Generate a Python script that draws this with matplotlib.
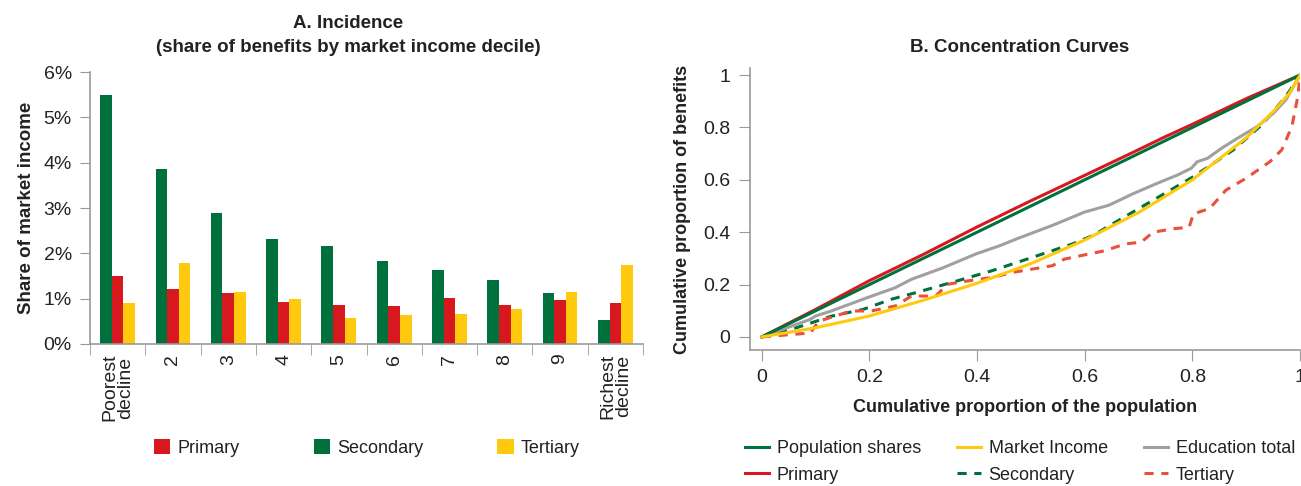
import numpy as np
import matplotlib
matplotlib.use("Agg")
import matplotlib.pyplot as plt
from matplotlib.ticker import FixedLocator

plt.rcParams['font.family'] = ['Liberation Sans', 'DejaVu Sans']

# Panel A data (share of market income, %)
deciles = ["Poorest\ndecline", "2", "3", "4", "5", "6", "7", "8", "9", "Richest\ndecline"]
secondary = [5.50, 3.87, 2.90, 2.32, 2.16, 1.82, 1.63, 1.42, 1.13, 0.52]
primary = [1.50, 1.22, 1.12, 0.93, 0.87, 0.84, 1.02, 0.87, 0.98, 0.91]
tertiary = [0.90, 1.78, 1.15, 0.99, 0.57, 0.63, 0.67, 0.78, 1.14, 1.75]

# Panel B data (concentration curves)
pop_x = [0, 1]
pop_y = [0, 1]
prim_x = [0, 0.1, 0.2, 0.3, 0.4, 0.5, 0.6, 0.7, 0.75, 0.8, 0.9, 1.0]
prim_y = [0, 0.105, 0.215, 0.315, 0.42, 0.52, 0.617, 0.715, 0.765, 0.812, 0.91, 1.0]
mkt_x = [0, 0.1, 0.2, 0.3, 0.4, 0.5, 0.6, 0.7, 0.8, 0.9, 0.95, 0.98, 1.0]
mkt_y = [0, 0.035, 0.08, 0.14, 0.205, 0.28, 0.37, 0.475, 0.60, 0.76, 0.86, 0.93, 1.0]
edu_x = [0, 0.09, 0.10, 0.129, 0.196, 0.248, 0.278, 0.338, 0.398, 0.443, 0.473, 0.54,
         0.60, 0.645, 0.69, 0.734, 0.772, 0.798, 0.809, 0.828, 0.854, 0.884, 0.921,
         0.951, 0.974, 1.0]
edu_y = [0, 0.067, 0.08, 0.099, 0.15, 0.188, 0.22, 0.265, 0.317, 0.349, 0.374, 0.426,
         0.477, 0.503, 0.547, 0.586, 0.618, 0.644, 0.669, 0.682, 0.72, 0.759, 0.804,
         0.855, 0.906, 1.0]
sec_x = [0, 0.054, 0.129, 0.188, 0.241, 0.286, 0.353, 0.428, 0.503, 0.577, 0.615,
         0.652, 0.727, 0.802, 0.876, 0.929, 0.974, 1.0]
sec_y = [0, 0.028, 0.079, 0.105, 0.144, 0.169, 0.208, 0.253, 0.304, 0.355, 0.387,
         0.432, 0.522, 0.612, 0.714, 0.81, 0.919, 1.0]
ter_x = [0, 0.09, 0.106, 0.166, 0.203, 0.248, 0.278, 0.323, 0.345, 0.383, 0.428,
         0.465, 0.54, 0.562, 0.592, 0.637, 0.675, 0.705, 0.727, 0.765, 0.794, 0.802,
         0.832, 0.862, 0.899, 0.944, 0.966, 0.985, 0.996, 1.0]
ter_y = [0, 0.015, 0.06, 0.099, 0.099, 0.118, 0.156, 0.156, 0.201, 0.214, 0.227,
         0.246, 0.272, 0.297, 0.31, 0.329, 0.355, 0.362, 0.40, 0.413, 0.419, 0.47,
         0.49, 0.56, 0.605, 0.669, 0.714, 0.804, 0.919, 1.0]

GREEN = "#00703c"
RED = "#d7191f"
YELLOW = "#ffc90e"
GRAY = "#a0a0a0"
TER = "#e8513a"
SPINE = "#999999"
TXT = "#222222"

TICK_FS = 14
TITLE_FS = 13.5
LEG_FS = 13

W, H = 1301, 486
fig = plt.figure(figsize=(W / 100, H / 100), dpi=100)

def fx(px):
    return px / W

def fy(py):
    return 1 - py / H

# ---------- Panel A ----------
axA = fig.add_axes([fx(90), fy(344), fx(643 - 90), fy(72) - fy(344)])
x = np.arange(len(deciles))
w = 0.21
axA.bar(x - w, secondary, w, color=GREEN, label="Secondary")
axA.bar(x, primary, w, color=RED, label="Primary")
axA.bar(x + w, tertiary, w, color=YELLOW, label="Tertiary")
axA.set_xlim(-0.5, len(deciles) - 0.5)
axA.set_ylim(0, 6)
axA.set_yticks(range(7))
axA.set_yticklabels([f"{i}%" for i in range(7)])
axA.set_xticks(x)
axA.set_xticklabels(deciles, rotation=90, va="top", ha="center", linespacing=0.9)
axA.xaxis.set_minor_locator(FixedLocator(np.arange(-0.5, len(deciles), 1)))
axA.tick_params(axis="x", which="major", length=0, pad=7, labelsize=TICK_FS, labelcolor=TXT)
axA.tick_params(axis="x", which="minor", length=8, color=SPINE, direction="out")
axA.tick_params(axis="y", length=7, color=SPINE, labelsize=TICK_FS, labelcolor=TXT, pad=6)
for s in ["top", "right"]:
    axA.spines[s].set_visible(False)
for s in ["left", "bottom"]:
    axA.spines[s].set_color(SPINE)
    axA.spines[s].set_linewidth(1.2)
axA.set_ylabel("Share of market income", fontsize=13.5, fontweight="bold",
               color=TXT, labelpad=6)
fig.text(fx(348), fy(23), "A. Incidence", ha="center", va="center",
         fontsize=TITLE_FS, fontweight="bold", color=TXT)
fig.text(fx(348), fy(47), "(share of benefits by market income decile)", ha="center",
         va="center", fontsize=TITLE_FS, fontweight="bold", color=TXT)
h, l = axA.get_legend_handles_labels()
order = [1, 0, 2]
axA.legend([h[i] for i in order], [l[i] for i in order], loc="center",
           bbox_to_anchor=(fx(367), fy(448)), bbox_transform=fig.transFigure,
           ncol=3, frameon=False, fontsize=LEG_FS, handlelength=0.9, handleheight=0.9,
           columnspacing=4.1, handletextpad=0.4, borderpad=0, labelcolor=TXT)

# ---------- Panel B ----------
axB = fig.add_axes([fx(750), fy(350), fx(1300 - 750), fy(68) - fy(350)])
lw = 2.2
l_pop, = axB.plot(pop_x, pop_y, color=GREEN, lw=lw, label="Population shares")
l_prim, = axB.plot(prim_x, prim_y, color=RED, lw=lw, label="Primary")
l_mkt, = axB.plot(mkt_x, mkt_y, color=YELLOW, lw=lw, label="Market Income")
l_sec, = axB.plot(sec_x, sec_y, color=GREEN, lw=lw, ls=(0, (3, 2.5)), label="Secondary")
l_edu, = axB.plot(edu_x, edu_y, color=GRAY, lw=lw, label="Education total")
l_ter, = axB.plot(ter_x, ter_y, color=TER, lw=lw, ls=(0, (3, 2.5)), label="Tertiary")
# keep green/yellow on top like the original
l_pop.set_zorder(4)
l_mkt.set_zorder(4)
axB.set_xlim(-0.022, 1.0)
axB.set_ylim(-0.05, 1.027)
ticks = [0, 0.2, 0.4, 0.6, 0.8, 1]
tlabels = ["0", "0.2", "0.4", "0.6", "0.8", "1"]
axB.set_xticks(ticks)
axB.set_xticklabels(tlabels)
axB.set_yticks(ticks)
axB.set_yticklabels(tlabels)
axB.tick_params(length=8, color=SPINE, labelsize=TICK_FS, labelcolor=TXT, pad=6)
for s in ["top", "right"]:
    axB.spines[s].set_visible(False)
for s in ["left", "bottom"]:
    axB.spines[s].set_color(SPINE)
    axB.spines[s].set_linewidth(1.2)
axB.set_xlabel("Cumulative proportion of the population", fontsize=13,
               fontweight="bold", color=TXT, labelpad=9)
axB.set_ylabel("Cumulative proportion of benefits", fontsize=13,
               fontweight="bold", color=TXT, labelpad=9)
fig.text(fx(1020), fy(48), "B. Concentration Curves", ha="center", va="center",
         fontsize=TITLE_FS, fontweight="bold", color=TXT)
axB.legend([l_pop, l_prim, l_mkt, l_sec, l_edu, l_ter],
           ["Population shares", "Primary", "Market Income", "Secondary",
            "Education total", "Tertiary"],
           loc="center", bbox_to_anchor=(fx(1020), fy(462)), bbox_transform=fig.transFigure,
           ncol=3, frameon=False, fontsize=LEG_FS, handlelength=1.35, handletextpad=0.4,
           columnspacing=2.0, labelspacing=0.5, borderpad=0, labelcolor=TXT)

fig.savefig("out.png", dpi=100)
